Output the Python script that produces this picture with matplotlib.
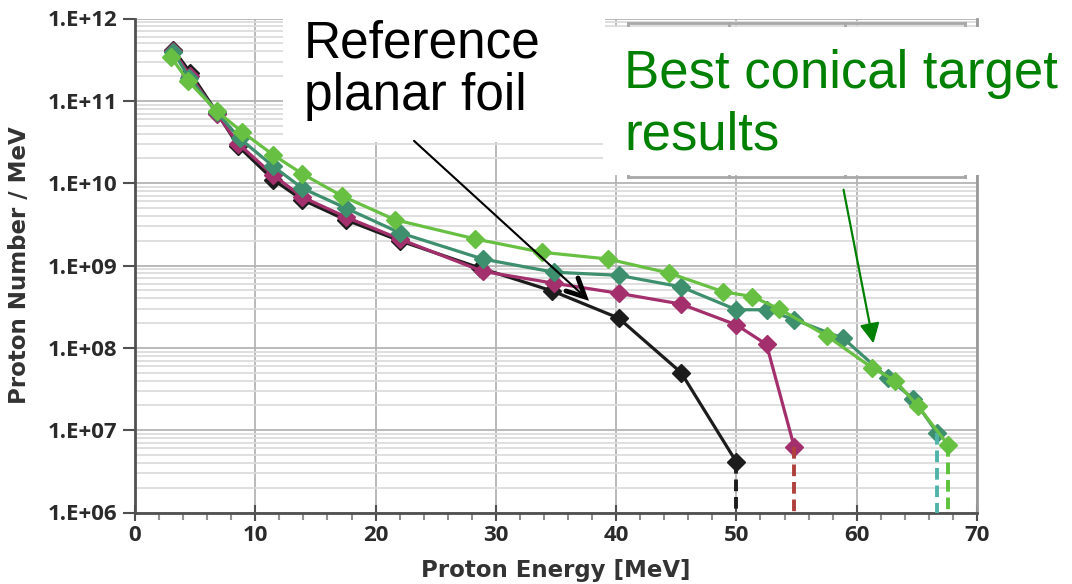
import math
import matplotlib
matplotlib.use("Agg")
import matplotlib.pyplot as plt
from matplotlib.patches import Rectangle, FancyArrowPatch
from matplotlib.lines import Line2D
from matplotlib.ticker import FixedLocator, MultipleLocator, LogLocator, NullFormatter, FuncFormatter

# ---- data: proton spectra (energy in MeV, number per MeV) ----
energy_planar = [3.2, 4.6, 6.8, 8.6, 11.5, 13.9, 17.5, 22.0, 28.7, 34.7, 40.2, 45.4, 50.0]
number_planar = [4.2e11, 2.2e11, 7.2e10, 2.8e10, 1.1e10, 6.3e9, 3.6e9, 2.0e9, 9.3e8, 4.9e8, 2.3e8, 5.0e7, 4.1e6]

energy_cone_a = [3.2, 4.6, 6.8, 8.6, 11.5, 13.9, 17.5, 22.0, 28.9, 34.8, 40.2, 45.4, 50.0, 52.5, 54.8]
number_cone_a = [4.0e11, 2.0e11, 7.0e10, 3.0e10, 1.25e10, 6.8e9, 3.9e9, 2.1e9, 8.5e8, 6.1e8, 4.6e8, 3.4e8, 1.9e8, 1.1e8, 6.3e6]

energy_cone_b = [3.2, 4.5, 6.8, 8.7, 11.5, 13.9, 17.5, 22.0, 28.9, 34.8, 40.2, 45.4, 50.0, 52.5, 54.8, 58.9, 62.6, 64.7, 66.7]
number_cone_b = [3.9e11, 1.9e11, 7.3e10, 3.5e10, 1.6e10, 8.7e9, 5.0e9, 2.5e9, 1.2e9, 8.3e8, 7.6e8, 5.5e8, 2.9e8, 2.9e8, 2.2e8, 1.3e8, 4.3e7, 2.4e7, 9.2e6]

energy_cone_c = [3.0, 4.4, 6.8, 8.9, 11.5, 13.9, 17.2, 21.6, 28.3, 33.8, 39.3, 44.4, 48.9, 51.3, 53.5, 57.5, 61.3, 63.2, 65.1, 67.6]
number_cone_c = [3.4e11, 1.75e11, 7.5e10, 4.2e10, 2.2e10, 1.3e10, 7.0e9, 3.6e9, 2.1e9, 1.45e9, 1.2e9, 8.1e8, 4.8e8, 4.2e8, 3.0e8, 1.4e8, 5.7e7, 4.0e7, 1.95e7, 6.6e6]

x_ticks = [0, 10, 20, 30, 40, 50, 60, 70]
y_ticks = [1e6, 1e7, 1e8, 1e9, 1e10, 1e11, 1e12]
y_floor = 1e6

W, H = 1072, 584
fig = plt.figure(figsize=(W / 100, H / 100), dpi=100)
ax = fig.add_axes([135 / W, 1 - 512.5 / H, (977 - 135) / W, (512.5 - 18.5) / H])

tick_family = ["Open Sans", "DejaVu Sans"]
label_family = ["DejaVu Sans"]

series = [
    (energy_planar, number_planar, "#1c1c1c", "#1c1c1c"),
    (energy_cone_a, number_cone_a, "#a3306c", "#b0403c"),
    (energy_cone_b, number_cone_b, "#3d8f6e", "#4fb3aa"),
    (energy_cone_c, number_cone_c, "#68c043", "#5cc23a"),
]
for xs, ys, col, dcol in series:
    ax.plot(xs, ys, color=col, lw=2.3, marker="D", ms=9, mec=col, mfc=col, zorder=3)
    ax.plot([xs[-1], xs[-1]], [ys[-1], y_floor], color=dcol, lw=2.8,
            ls=(0, (3, 1.5)), zorder=3)

ax.set_yscale("log")
ax.set_xlim(0, 70)
ax.set_ylim(1e6, 1e12)

ax.xaxis.set_major_locator(FixedLocator(x_ticks))
ax.xaxis.set_minor_locator(MultipleLocator(2))
ax.yaxis.set_major_locator(FixedLocator(y_ticks))
ax.yaxis.set_minor_locator(LogLocator(base=10, subs=range(2, 10), numticks=20))
ax.yaxis.set_minor_formatter(NullFormatter())
ax.yaxis.set_major_formatter(FuncFormatter(lambda v, p: "1.E+%02d" % round(math.log10(v))))

ax.grid(True, which="major", axis="both", color="#b4b4b4", lw=1.3, zorder=0)
ax.grid(True, which="minor", axis="y", color="#dcdcdc", lw=1.3, zorder=0)
ax.set_axisbelow(True)

for side in ("left", "bottom"):
    ax.spines[side].set_color("#505050")
    ax.spines[side].set_linewidth(2)
ax.spines["right"].set_color("#9a9a9a")
ax.spines["right"].set_linewidth(2)
ax.spines["top"].set_visible(False)

ax.tick_params(axis="x", which="major", direction="inout", length=12, width=1.5, color="#505050", pad=3)
ax.tick_params(axis="x", which="minor", direction="out", length=5, width=1.5, color="#909090")
ax.tick_params(axis="y", which="major", direction="out", length=9, width=1.5, color="#505050", pad=4)
ax.tick_params(axis="y", which="minor", length=0)
for lab in ax.get_xticklabels() + ax.get_yticklabels():
    lab.set_fontfamily(tick_family)
    lab.set_fontweight("bold")
    lab.set_fontsize(16)
    lab.set_color("#2a2a2a")

ax.set_xlabel("Proton Energy [MeV]", fontfamily=label_family, fontweight="bold",
              fontsize=16.5, color="#333333", labelpad=9)
ax.set_ylabel("Proton Number / MeV", fontfamily=label_family, fontweight="bold",
              fontsize=16.5, color="#333333", labelpad=12)


def fx(px):
    return px / W


def fy(py):
    return 1 - py / H


# partially hidden legend frame behind the callout
legend_col = "#a8a8a8"
for x0, y0, x1, y1 in [(628, 23, 965, 23), (628, 177, 965, 177),
                       (628, 23, 628, 177), (965, 23, 965, 177),
                       (729, 23, 729, 177), (845, 23, 845, 177)]:
    fig.add_artist(Line2D([fx(x0), fx(x1)], [fy(y0), fy(y1)], color=legend_col, lw=2, zorder=5))

# white callout boxes
fig.add_artist(Rectangle((fx(283), fy(142)), fx(605) - fx(283), fy(0) - fy(142),
                         transform=fig.transFigure, facecolor="white", edgecolor="none", zorder=6))
fig.add_artist(Rectangle((fx(603), fy(175)), fx(1072) - fx(603), fy(27) - fy(175),
                         transform=fig.transFigure, facecolor="white", edgecolor="none", zorder=6))

callout_family = ["Liberation Sans", "DejaVu Sans"]
for txt, bx, by, col, size in [("Reference", 304, 57, "black", 37),
                               ("planar foil", 304, 110, "black", 37),
                               ("Best conical target", 624, 88, "#008000", 38),
                               ("results", 624, 150, "#008000", 38)]:
    fig.text(fx(bx), fy(by), txt, ha="left", va="baseline", fontfamily=callout_family,
             fontsize=size, color=col, zorder=7)

# arrows pointing at the curves
fig.add_artist(FancyArrowPatch(
    (fx(412), fy(139)), (fx(585), fy(297)), transform=fig.transFigure,
    arrowstyle="-", color="black", lw=1.5, zorder=7))
fig.add_artist(Line2D([fx(566), fx(585), fx(578)], [fy(291), fy(297), fy(278)],
                      color="black", lw=3.5, solid_capstyle="round", solid_joinstyle="miter", zorder=7))
fig.add_artist(FancyArrowPatch(
    (fx(843), fy(187)), (fx(874), fy(346)), transform=fig.transFigure,
    arrowstyle="-|>,head_length=12,head_width=6", mutation_scale=1, color="#008000",
    lw=1.6, zorder=7))

fig.savefig("out.png", dpi=100)
